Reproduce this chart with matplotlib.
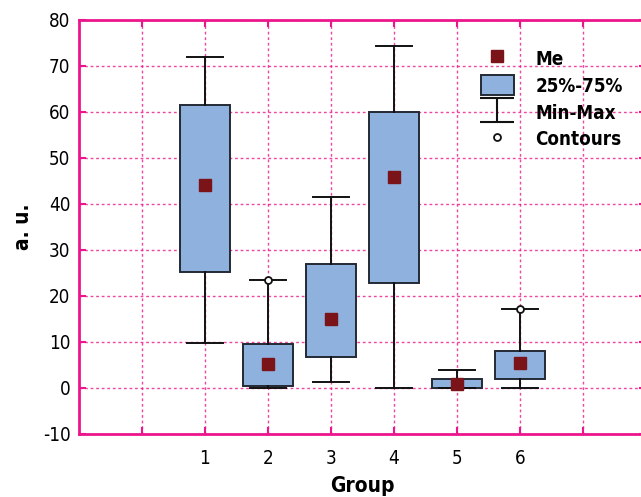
import matplotlib
matplotlib.use('Agg')
import matplotlib.pyplot as plt
from matplotlib.lines import Line2D
from matplotlib.patches import Patch
from matplotlib.path import Path

plt.rcParams['font.family'] = ['DejaVu Sans']
plt.rcParams['font.stretch'] = 'condensed'
plt.rcParams['axes.unicode_minus'] = False

groups = [1, 2, 3, 4, 5, 6]
me = [44.1, 5.2, 15.0, 45.9, 0.9, 5.5]
q1 = [25.2, 0.4, 6.7, 22.8, 0.0, 2.0]
q3 = [61.5, 9.6, 27.0, 60.0, 2.0, 8.0]
mins = [9.8, 0.0, 1.3, 0.0, 0.0, 0.0]
maxs = [72.0, 23.5, 41.5, 74.3, 3.9, 17.2]
contours = [[], [23.5], [], [], [], [17.2]]

pink = '#ec168c'
boxfill = '#8fb1de'
medcol = '#7b1418'
edge = '#232a35'

fig = plt.figure(figsize=(6.41, 4.97), dpi=100)
ax = fig.add_axes([0.123, 0.127, 0.885, 0.833])

stats = []
for i in range(len(groups)):
    stats.append(dict(med=me[i], q1=q1[i], q3=q3[i], whislo=mins[i],
                      whishi=maxs[i], fliers=contours[i]))

ax.bxp(stats, positions=groups, widths=0.8, patch_artist=True,
       boxprops=dict(facecolor=boxfill, edgecolor=edge, linewidth=1.4),
       whiskerprops=dict(color='#111111', linewidth=1.4),
       capprops=dict(color='#111111', linewidth=1.4),
       capwidths=0.56,
       medianprops=dict(linewidth=0),
       flierprops=dict(marker='o', markersize=5, markerfacecolor='white',
                       markeredgecolor='#111111', markeredgewidth=1.3),
       zorder=3)
ax.plot(groups, me, 's', color=medcol, markersize=8, zorder=5, linestyle='none')

ax.set_xlim(-1, 8)
ax.set_ylim(-10, 80)
ax.set_xticks(range(0, 8))
ax.set_xticklabels(['', '1', '2', '3', '4', '5', '6', ''])
ax.set_yticks(range(-10, 81, 10))

ax.grid(True, color=pink, linestyle=(0, (2, 2)), linewidth=1.0, alpha=0.8, zorder=0)
ax.set_axisbelow(True)
for s in ax.spines.values():
    s.set_color(pink)
    s.set_linewidth(2)
ax.tick_params(axis='both', direction='in', color=pink, length=5, width=1.5,
               top=True, right=True, labelsize=13.5)
ax.tick_params(axis='x', pad=11)
ax.tick_params(axis='y', pad=6)

ax.set_xlabel('Group', fontsize=15, fontweight='bold', labelpad=6)
ax.set_ylabel('a. u.', fontsize=15, fontweight='bold', labelpad=7)

# legend symbol for Min-Max
minmax = Path([(-1.5, 1), (1.5, 1), (0, 1), (0, -1), (-1.5, -1), (1.5, -1)],
              [Path.MOVETO, Path.LINETO, Path.MOVETO, Path.LINETO, Path.MOVETO, Path.LINETO])
handles = [
    Line2D([], [], marker='s', color=medcol, linestyle='none', markersize=8),
    Patch(facecolor=boxfill, edgecolor=edge, linewidth=1.4),
    Line2D([], [], marker=minmax, color='#111111', markerfacecolor='none',
           linestyle='none', markersize=25, markeredgewidth=1.5),
    Line2D([], [], marker='o', markerfacecolor='white', markeredgecolor='#111111',
           linestyle='none', markersize=5, markeredgewidth=1.3),
]
labels = ['Me', '25%-75%', 'Min-Max', 'Contours']
leg = ax.legend(handles, labels, loc='upper left', bbox_to_anchor=(0.679, 0.972),
                frameon=False, prop=dict(size=13.5, weight='bold', stretch='condensed'),
                handlelength=1.75, handleheight=1.25, labelspacing=0.36,
                handletextpad=1.15, borderpad=0.4)

fig.savefig('out.png', dpi=100)
